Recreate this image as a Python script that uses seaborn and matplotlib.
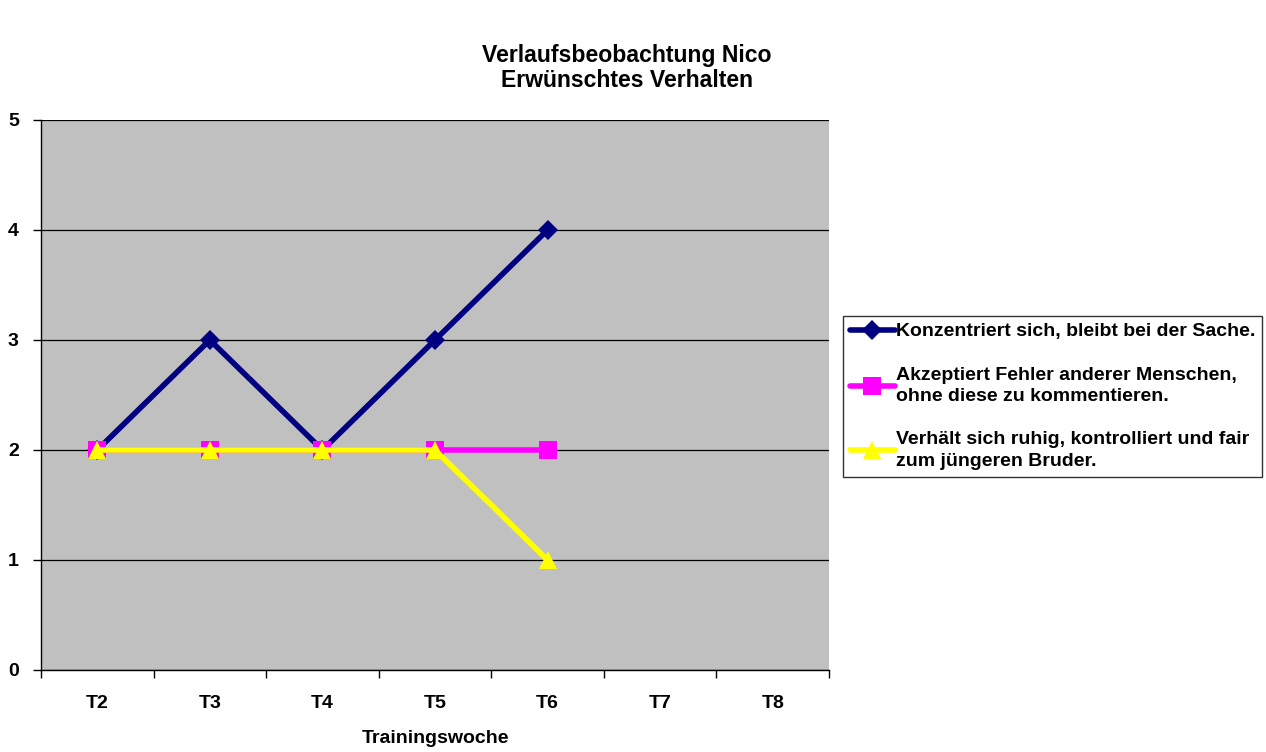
import matplotlib
matplotlib.use("Agg")
import matplotlib.pyplot as plt
import seaborn as sns
import numpy as np
import pandas as pd

weeks = ["T2", "T3", "T4", "T5", "T6", "T7", "T8"]
konzentriert = [2, 3, 2, 3, 4, np.nan, np.nan]
akzeptiert = [2, 2, 2, 2, 2, np.nan, np.nan]
ruhig = [2, 2, 2, 2, 1, np.nan, np.nan]
labels = [
    "Konzentriert sich, bleibt bei der Sache.",
    "Akzeptiert Fehler anderer Menschen,\nohne diese zu kommentieren.",
    "Verhält sich ruhig, kontrolliert und fair\nzum jüngeren Bruder.",
]
y_ticks = [0, 1, 2, 3, 4, 5]

sns.set_style("white")
plt.rcParams["font.family"] = ["Liberation Sans", "DejaVu Sans"]
plt.rcParams["font.weight"] = "bold"
plt.rcParams["text.color"] = "black"
plt.rcParams["xtick.color"] = "black"
plt.rcParams["ytick.color"] = "black"
plt.rcParams["axes.labelcolor"] = "black"

fig = plt.figure(figsize=(12.66, 7.52), dpi=100)
ax = fig.add_axes([41 / 1266, 1 - 670 / 752, (829 - 41) / 1266, (670 - 120) / 752])
ax.set_facecolor("#c0c0c0")

pos = np.arange(len(weeks))
styles = [
    (konzentriert, "#000080", "D", 10.5),
    (akzeptiert, "#ff00ff", "s", 13),
    (ruhig, "#ffff00", "^", 13),
]
for (vals, color, marker, ms), lab in zip(styles, labels):
    df = pd.DataFrame({"pos": pos, "val": vals}).dropna()
    sns.lineplot(data=df, x="pos", y="val", ax=ax, color=color, lw=4,
                 marker=marker, markersize=ms, markeredgewidth=0,
                 label=lab, legend=False)

ax.set_xlim(-0.5, len(weeks) - 0.5)
ax.set_ylim(0, 5)
ax.set_yticks(y_ticks)
ax.set_yticklabels([str(t) for t in y_ticks], fontsize=14, fontweight="bold")
ax.set_xticks(pos)
ax.set_xticklabels(weeks, fontsize=14, fontweight="bold")
ax.tick_params(axis="x", which="major", bottom=True, length=0, pad=18)
ax.set_xticks(np.arange(-0.5, len(weeks)), minor=True)
ax.tick_params(axis="x", which="minor", bottom=True, length=6, width=1,
               color="black", direction="out")
ax.tick_params(axis="y", left=True, length=6, width=1, color="black",
               direction="out", pad=10)
ax.yaxis.grid(True, color="black", lw=0.9)
ax.set_axisbelow(True)
for side in ["top", "right"]:
    ax.spines[side].set_visible(False)
for side in ["left", "bottom"]:
    ax.spines[side].set_color("black")
    ax.spines[side].set_linewidth(1)
ax.set_xlabel("Trainingswoche", fontsize=14, fontweight="bold", labelpad=13)
ax.set_ylabel("")

fig.text(627 / 1266, 1 - 68 / 752, "Verlaufsbeobachtung Nico\nErwünschtes Verhalten",
         ha="center", va="center", fontsize=16.6, fontweight="bold", linespacing=1.12)

handles, labs = ax.get_legend_handles_labels()
leg = fig.legend(handles, labs, loc="upper left",
                 bbox_to_anchor=(843 / 1266, 1 - 316 / 752),
                 frameon=True, fancybox=False, handlelength=2.3, handletextpad=0.05,
                 borderaxespad=0, borderpad=0.35, labelspacing=1.35,
                 prop={"size": 14, "weight": "bold"})
for t in leg.get_texts():
    t.set_linespacing(1.35)
leg.get_frame().set_edgecolor("black")
leg.get_frame().set_linewidth(1)

fig.savefig("out.png", dpi=100, facecolor="white")
